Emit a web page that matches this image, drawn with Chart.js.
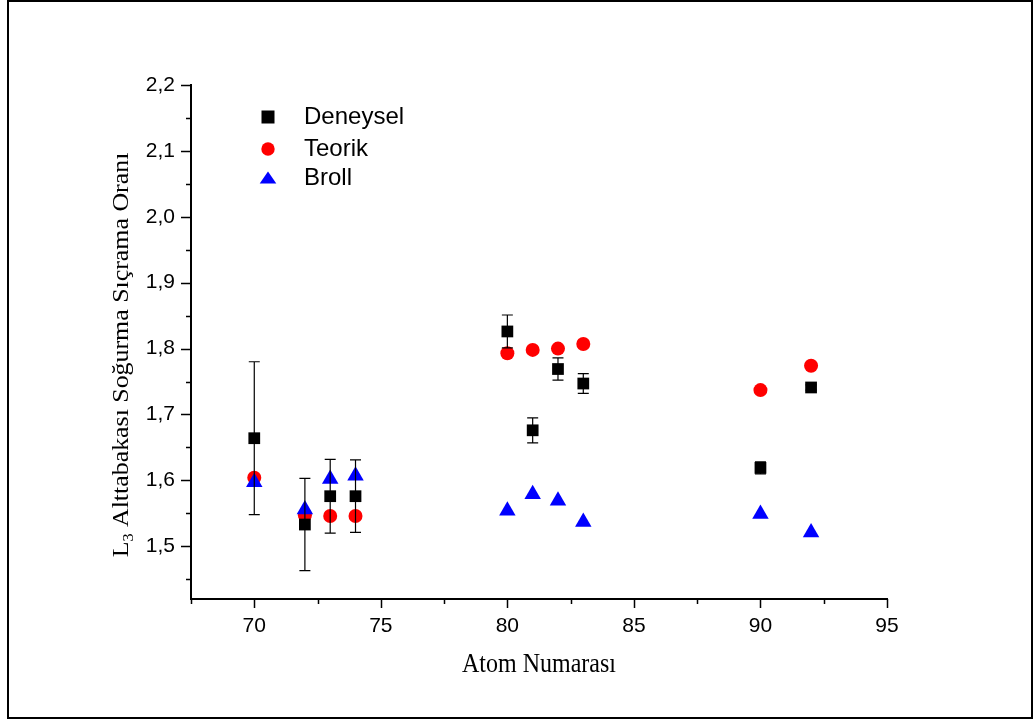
<!DOCTYPE html>
<html>
<head>
<meta charset="utf-8">
<script src="https://cdn.jsdelivr.net/npm/chart.js@4/dist/chart.umd.min.js"></script>
<style>
  html, body { margin: 0; padding: 0; background: #fff; }
  canvas { display: block; }
</style>
</head>
<body>
<canvas id="chart" width="1034" height="720"></canvas>
<script>
// data
const atomNo = [70, 72, 73, 74, 80, 81, 82, 83, 90, 92];
const deneysel = [1.664, 1.533, 1.576, 1.576, 1.826, 1.676, 1.769, 1.747, 1.619, 1.741];
const deneyselErr = [0.116, 0.070, 0.056, 0.055, 0.025, 0.019, 0.017, 0.015, 0.009, 0.004];
const teorik = [1.604, 1.547, 1.546, 1.546, 1.793, 1.798, 1.800, 1.807, 1.737, 1.774];
const broll = [1.597, 1.556, 1.602, 1.607, 1.554, 1.579, 1.569, 1.537, 1.549, 1.521];

// tick labels
const xTicks = [70, 75, 80, 85, 90, 95];
const xMinor = [67.5, 72.5, 77.5, 82.5, 87.5, 92.5];
const yTicks = [1.5, 1.6, 1.7, 1.8, 1.9, 2.0, 2.1, 2.2];
const yMinor = [1.45, 1.55, 1.65, 1.75, 1.85, 1.95, 2.05, 2.15];

const seriesNames = ['Deneysel', 'Teorik', 'Broll'];
const xTitle = 'Atom Numarası';
const yTitle = 'Alttabakası Soğurma Sıçrama Oranı';

const SANS = "'Liberation Sans', Arial, sans-serif";
const SERIF = "'Liberation Serif', 'Times New Roman', serif";

function toPoints(vals) {
    return atomNo.map((x, i) => ({ x: x, y: vals[i] }));
}

// hata çubukları
const errorBars = {
    id: 'errorBars',
    afterDatasetsDraw(chart) {
        const ctx = chart.ctx;
        const xs = chart.scales.x, ys = chart.scales.y;
        ctx.save();
        ctx.strokeStyle = '#000';
        ctx.lineWidth = 1.2;
        atomNo.forEach((a, i) => {
            const px = xs.getPixelForValue(a);
            const top = ys.getPixelForValue(deneysel[i] + deneyselErr[i]);
            const bot = ys.getPixelForValue(deneysel[i] - deneyselErr[i]);
            ctx.beginPath();
            ctx.moveTo(px, top); ctx.lineTo(px, bot);
            ctx.moveTo(px - 5.5, top); ctx.lineTo(px + 5.5, top);
            ctx.moveTo(px - 5.5, bot); ctx.lineTo(px + 5.5, bot);
            ctx.stroke();
        });
        ctx.restore();
    }
};

// tick marks, titles, legend and frame
const decorations = {
    id: 'decorations',
    afterDraw(chart) {
        const ctx = chart.ctx;
        const xs = chart.scales.x, ys = chart.scales.y;
        const area = chart.chartArea;
        ctx.save();
        ctx.strokeStyle = '#000';
        ctx.lineWidth = 1.5;
        ctx.beginPath();
        yTicks.forEach(v => {
            const py = Math.round(ys.getPixelForValue(v)) + 0.5;
            ctx.moveTo(area.left - 10, py); ctx.lineTo(area.left, py);
        });
        yMinor.forEach(v => {
            const py = Math.round(ys.getPixelForValue(v)) + 0.5;
            ctx.moveTo(area.left - 5, py); ctx.lineTo(area.left, py);
        });
        xTicks.forEach(v => {
            const px = Math.round(xs.getPixelForValue(v)) + 0.5;
            ctx.moveTo(px, area.bottom); ctx.lineTo(px, area.bottom + 9);
        });
        xMinor.forEach(v => {
            const px = Math.round(xs.getPixelForValue(v)) + 0.5;
            ctx.moveTo(px, area.bottom); ctx.lineTo(px, area.bottom + 5);
        });
        ctx.stroke();

        // x title
        ctx.fillStyle = '#000';
        ctx.font = '24px ' + SERIF;
        ctx.textAlign = 'center';
        ctx.textBaseline = 'alphabetic';
        ctx.save();
        ctx.translate((area.left + area.right) / 2, 672);
        ctx.scale(1, 1.15);
        ctx.fillText(xTitle, 0, 0);
        ctx.restore();

        // y title with subscript
        ctx.save();
        ctx.translate(128, 355);
        ctx.rotate(-Math.PI / 2);
        ctx.scale(1.15, 1);
        ctx.textAlign = 'left';
        const big = '22.5px ' + SERIF, small = '14px ' + SERIF;
        ctx.font = big;
        const wL = ctx.measureText('L').width;
        const wRest = ctx.measureText(' ' + yTitle).width;
        ctx.font = small;
        const w3 = ctx.measureText('3').width;
        let x0 = -(wL + w3 + wRest) / 2;
        ctx.font = big;
        ctx.fillText('L', x0, 0);
        ctx.font = small;
        ctx.fillText('3', x0 + wL, 5);
        ctx.font = big;
        ctx.fillText(' ' + yTitle, x0 + wL + w3, 0);
        ctx.restore();

        // legend
        const mx = 268, tx = 304;
        const rows = [117, 149, 178];
        ctx.fillStyle = '#000';
        ctx.fillRect(mx - 6.5, rows[0] - 6.5, 13, 13);
        ctx.fillStyle = '#ff0000';
        ctx.beginPath();
        ctx.arc(mx, rows[1], 6.7, 0, Math.PI * 2);
        ctx.fill();
        ctx.fillStyle = '#0000ff';
        ctx.beginPath();
        ctx.moveTo(mx, rows[2] - 6.5);
        ctx.lineTo(mx + 8.3, rows[2] + 5.5);
        ctx.lineTo(mx - 8.3, rows[2] + 5.5);
        ctx.closePath();
        ctx.fill();
        ctx.fillStyle = '#000';
        ctx.font = '24px ' + SANS;
        ctx.textAlign = 'left';
        ctx.textBaseline = 'middle';
        seriesNames.forEach((n, i) => ctx.fillText(n, tx, rows[i]));

        // outer frame
        ctx.lineWidth = 2;
        ctx.strokeStyle = '#000';
        ctx.strokeRect(8, 1, 1024, 717);
        ctx.restore();
    }
};

new Chart(document.getElementById('chart'), {
    type: 'scatter',
    data: {
        datasets: [
            {
                label: seriesNames[0],
                data: toPoints(deneysel),
                pointStyle: 'rect',
                pointRadius: 8.3,
                backgroundColor: '#000',
                borderColor: '#000',
                borderWidth: 0,
                order: 1
            },
            {
                label: seriesNames[1],
                data: toPoints(teorik),
                pointStyle: 'circle',
                pointRadius: 7,
                backgroundColor: '#ff0000',
                borderColor: '#ff0000',
                borderWidth: 0,
                order: 2
            },
            {
                label: seriesNames[2],
                data: toPoints(broll),
                pointStyle: 'triangle',
                pointRadius: 9.5,
                backgroundColor: '#0000ff',
                borderColor: '#0000ff',
                borderWidth: 0,
                order: 0
            }
        ]
    },
    options: {
        responsive: false,
        animation: false,
        devicePixelRatio: 1,
        layout: { padding: { left: 0, top: 85, right: 147, bottom: 0 } },
        plugins: {
            legend: { display: false },
            tooltip: { enabled: false }
        },
        scales: {
            x: {
                type: 'linear',
                min: 67.5,
                max: 95,
                afterBuildTicks: s => { s.ticks = xTicks.map(v => ({ value: v })); },
                afterFit: s => { s.height = 121; },
                grid: { display: false, drawTicks: false },
                border: { display: true, color: '#000', width: 2 },
                ticks: {
                    color: '#000',
                    padding: 15,
                    maxRotation: 0,
                    font: { family: SANS, size: 21 },
                    callback: v => String(v)
                }
            },
            y: {
                type: 'linear',
                min: 1.42,
                max: 2.2,
                afterBuildTicks: s => { s.ticks = yTicks.map(v => ({ value: v })); },
                afterFit: s => { s.width = 191; },
                grid: { display: false, drawTicks: false },
                border: { display: true, color: '#000', width: 2 },
                ticks: {
                    color: '#000',
                    padding: 16,
                    font: { family: SANS, size: 21 },
                    callback: v => v.toFixed(1).replace('.', ',')
                }
            }
        }
    },
    plugins: [errorBars, decorations]
});
</script>
</body>
</html>
